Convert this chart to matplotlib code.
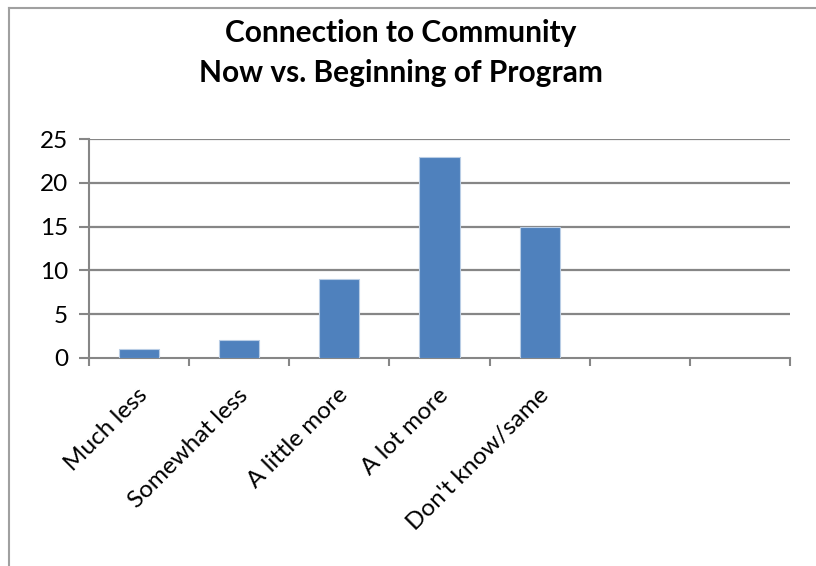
import matplotlib
matplotlib.use("Agg")
import matplotlib.pyplot as plt
from matplotlib.lines import Line2D
import numpy as np

plt.rcParams['font.family'] = ['Lato', 'DejaVu Sans']

categories = ["Much less", "Somewhat less", "A little more", "A lot more", "Don't know/same", "", ""]
counts = [1, 2, 9, 23, 15, 0, 0]
yticks = [0, 5, 10, 15, 20, 25]

bar_color = "#4F81BD"
grid_color = "#868686"

fig = plt.figure(figsize=(8.16, 5.66), dpi=100)
ax = fig.add_axes([89 / 816, 1 - 358 / 566, 701 / 816, 219 / 566])

x = np.arange(len(categories))
shown = [i for i, v in enumerate(counts) if v > 0]
ax.bar(x[shown], [counts[i] for i in shown], width=0.4, color=bar_color,
       edgecolor="#B9CDE5", linewidth=0.8, zorder=3)

ax.set_xlim(-0.5, len(categories) - 0.5)
ax.set_ylim(0, 25)
ax.set_yticks(yticks)
ax.set_yticklabels([str(t) for t in yticks], fontsize=17.5)
for t in yticks[1:]:
    ax.axhline(t, color=grid_color, linewidth=1.6, zorder=1)

# category boundary ticks below the axis
ax.set_xticks(np.arange(len(categories) + 1) - 0.5)
ax.set_xticklabels([])
ax.tick_params(axis="x", direction="out", length=6, width=1.5, color=grid_color)
ax.tick_params(axis="y", direction="out", length=7, width=1.5, color=grid_color, pad=8)

for i, label in enumerate(categories):
    ax.text(i - 0.02, -3.0, label, rotation=45, ha="right", va="top",
            rotation_mode="anchor", fontsize=17.5)

for side in ["top", "right"]:
    ax.spines[side].set_visible(False)
ax.spines["left"].set_color(grid_color)
ax.spines["left"].set_linewidth(1.5)
ax.spines["bottom"].set_color(grid_color)
ax.spines["bottom"].set_linewidth(1.5)

fig.text(401 / 816, 1 - 33 / 566, "Connection to Community", ha="center", va="center",
         fontsize=21.5, fontweight="bold")
fig.text(401 / 816, 1 - 73 / 566, "Now vs. Beginning of Program", ha="center", va="center",
         fontsize=21.5, fontweight="bold")

# chart frame edges
fig.add_artist(Line2D([9 / 816, 9 / 816], [0, 1 - 8 / 566], color="#A0A0A0", linewidth=1.5))
fig.add_artist(Line2D([9 / 816, 1], [1 - 8 / 566, 1 - 8 / 566], color="#A0A0A0", linewidth=1.5))

fig.savefig("out.png", dpi=100)
